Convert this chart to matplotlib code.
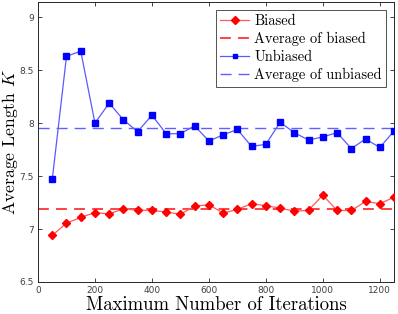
import matplotlib
matplotlib.use("Agg")
import matplotlib.pyplot as plt

plt.rcParams['mathtext.fontset'] = 'cm'
plt.rcParams['axes.formatter.use_mathtext'] = True

iterations = [50, 100, 150, 200, 250, 300, 350, 400, 450, 500, 550, 600, 650,
              700, 750, 800, 850, 900, 950, 1000, 1050, 1100, 1150, 1200, 1250]
biased = [6.94, 7.055, 7.11, 7.155, 7.143, 7.19, 7.177, 7.177, 7.16, 7.14, 7.215,
          7.23, 7.15, 7.185, 7.24, 7.22, 7.198, 7.168, 7.177, 7.32, 7.175, 7.175,
          7.26, 7.24, 7.30]
unbiased = [7.468, 8.63, 8.68, 8.00, 8.19, 8.03, 7.92, 8.075, 7.90, 7.90, 7.975,
            7.83, 7.89, 7.94, 7.78, 7.80, 8.008, 7.91, 7.84, 7.87, 7.91, 7.76,
            7.85, 7.77, 7.925]
avg_biased = 7.187
avg_unbiased = 7.953

x_ticks = [0, 200, 400, 600, 800, 1000, 1200]
y_ticks = [6.5, 7, 7.5, 8, 8.5, 9]

fig = plt.figure(figsize=(3.98, 3.14), dpi=100)
ax = fig.add_axes([0.0955, 0.102, 0.8945, 0.892])

ax.plot(iterations, biased, color='#ff5a5a', lw=0.9, marker='D', ms=4.5,
        mfc='#ff0000', mec='#ff0000', label='Biased', zorder=3)
ax.plot([0, 1250], [avg_biased, avg_biased], color='#ff3333', lw=1.3,
        ls=(0, (6, 4)), label='Average of biased', zorder=2)
ax.plot(iterations, unbiased, color='#5a5aff', lw=0.9, marker='s', ms=4,
        mfc='#0000ff', mec='#0000ff', label='Unbiased', zorder=3)
ax.plot([0, 1250], [avg_unbiased, avg_unbiased], color='#6060ff', lw=1.0,
        ls=(0, (8, 5)), label='Average of unbiased', zorder=2)

ax.set_xlim(0, 1250)
ax.set_ylim(6.5, 9.145)
ax.set_xticks(x_ticks)
ax.set_yticks(y_ticks)
ax.set_yticklabels(['6.5', '7', '7.5', '8', '8.5', '9'])
ax.set_xticklabels([str(t) for t in x_ticks])
ax.tick_params(direction='in', top=True, right=True, length=3, width=0.6,
               labelsize=6.5, colors='#262626', labelcolor='#404040', pad=3)
for s in ax.spines.values():
    s.set_linewidth(0.7)
    s.set_color('#262626')

ax.set_xlabel('Maximum Number of Iterations', fontfamily='cmr10', fontsize=13.5,
              labelpad=1)
ax.set_ylabel('Average Length $K$', fontfamily='cmr10', fontsize=12.7)
ax.yaxis.set_label_coords(-0.05, 0.5)

leg = ax.legend(loc='upper right', prop={'family': 'cmr10', 'size': 10.4},
                frameon=True, fancybox=False, edgecolor='#262626',
                borderpad=0.3, labelspacing=0.28, handlelength=2.0,
                handletextpad=0.35, borderaxespad=0.55, markerscale=0.8)
leg.get_frame().set_linewidth(0.7)

fig.savefig('out.png', dpi=100)
